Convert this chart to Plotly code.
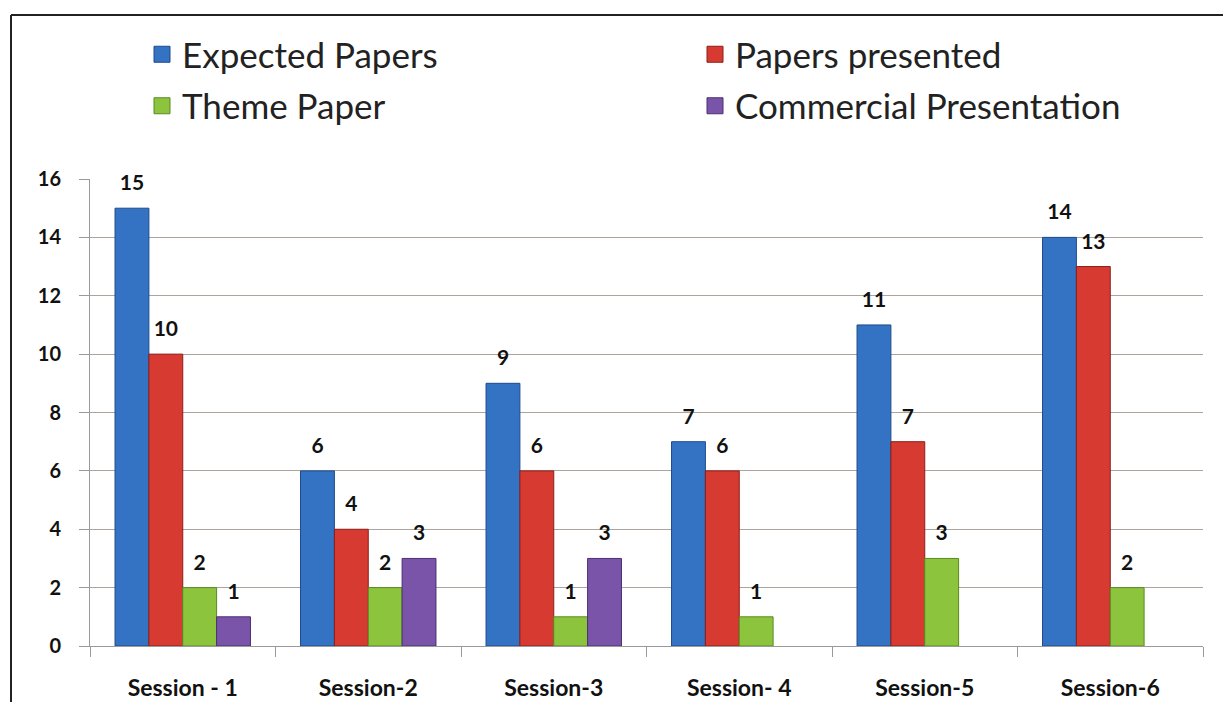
import plotly.graph_objects as go

sessions = ["Session - 1", "Session-2", "Session-3", "Session- 4", "Session-5", "Session-6"]
expected = [15, 6, 9, 7, 11, 14]
presented = [10, 4, 6, 6, 7, 13]
theme = [2, 2, 1, 1, 3, 2]
commercial = [1, 3, 3, None, None, None]

series = [
    ("Expected Papers", expected, "#3473c4", "#1d4a8a", "legend"),
    ("Papers presented", presented, "#d73a31", "#8c1e19", "legend2"),
    ("Theme Paper", theme, "#8cc43d", "#5a8a22", "legend"),
    ("Commercial Presentation", commercial, "#7a54a8", "#4b2f73", "legend2"),
]

# page is drawn with an 8px body offset, so the figure is sized to the visible area
OFF = 8
W, H = 1231 - OFF, 702 - OFF
ML, MT = 90 - OFF, 179 - OFF
MR = W - (1203 - OFF)
MB = H - (646 - OFF)
pw = W - ML - MR
ph = H - MT - MB


def px_x(x):
    return (x - OFF - ML) / pw


def px_y(y):
    return (H - MB - (y - OFF)) / ph


fig = go.Figure()
for name, vals, col, edge, lg in series:
    fig.add_trace(go.Bar(
        x=sessions, y=vals, name=name, showlegend=False,
        marker=dict(color=col, line=dict(color=edge, width=1)),
        text=[("" if v is None else str(v)) for v in vals],
        texttemplate="<span style='font-size:21px'>%{text}</span><br> ",
        textposition="outside", cliponaxis=False,
        textfont=dict(family="Lato", size=10, color="#111111", weight="bold"),
    ))
for i, (name, vals, col, edge, lg) in enumerate(series):
    fig.add_trace(go.Scatter(
        x=[None], y=[None], mode="markers", name=name, legend=lg, legendgroup=name,
        marker=dict(symbol="square", size=16, color=col, line=dict(color=edge, width=1)),
    ))

# chart frame (left and top edges)
fig.add_shape(type="line", xref="paper", yref="paper",
              x0=px_x(11), x1=px_x(11), y0=px_y(15), y1=px_y(720),
              line=dict(color="#222222", width=2))
fig.add_shape(type="line", xref="paper", yref="paper",
              x0=px_x(11), x1=px_x(1240), y0=px_y(15), y1=px_y(15),
              line=dict(color="#222222", width=2))

legend_common = dict(orientation="v", xanchor="left", yanchor="top",
                     font=dict(family="Lato", size=35, color="#222222"),
                     itemsizing="trace", tracegroupgap=3, bgcolor="rgba(0,0,0,0)")

fig.update_layout(
    width=W, height=H,
    margin=dict(l=ML, r=MR, t=MT, b=MB),
    paper_bgcolor="#ffffff", plot_bgcolor="#ffffff",
    barmode="group", bargap=0.27, bargroupgap=0,
    font=dict(family="Lato", color="#111111"),
    showlegend=True,
    legend=dict(x=px_x(142), y=px_y(25), **legend_common),
    legend2=dict(x=px_x(695), y=px_y(25), **legend_common),
    xaxis=dict(showline=True, linecolor="#9a9a9a", linewidth=1, ticks="outside", tickson="boundaries",
               ticklen=10, tickcolor="#9a9a9a", ticklabelstandoff=21, automargin=False,
               tickfont=dict(family="Lato", size=23, color="#111111", weight="bold")),
    yaxis=dict(range=[0, 16], dtick=2, showline=True, linecolor="#9a9a9a", linewidth=1,
               ticks="outside", ticklen=10, tickcolor="#9a9a9a", ticklabelstandoff=14,
               gridcolor="#aea49e", gridwidth=1, zeroline=False, automargin=False,
               tickfont=dict(family="Lato", size=20, color="#111111", weight="bold")),
)

fig.write_html("out.html")
